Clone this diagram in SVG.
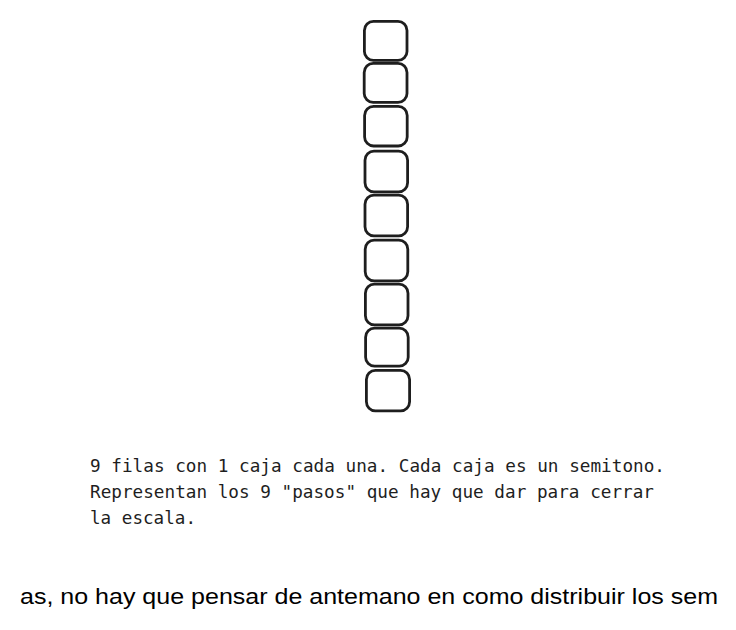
<svg xmlns="http://www.w3.org/2000/svg" width="736" height="630" viewBox="0 0 736 630">
<style>
.box{fill:none;stroke:#1e1e1e;stroke-width:2.8;stroke-linejoin:round}
.mono{font-family:"DejaVu Sans Mono","Liberation Mono",monospace;font-size:17.5px;fill:#1e1e1e}
.sans{font-family:"Liberation Sans",Arial,sans-serif;font-size:22px;fill:#000}
</style>
<rect width="736" height="630" fill="#fff"/>
<g id="boxes">
<g id="box1"><rect class="box" x="364.4" y="21.4" width="42.6" height="39" rx="9"/></g>
<g id="box2"><rect class="box" x="364.2" y="63.4" width="42.8" height="39" rx="9"/></g>
<g id="box3"><rect class="box" x="364.6" y="106.4" width="42.6" height="39.6" rx="9"/></g>
<g id="box4"><rect class="box" x="365" y="151.2" width="42.6" height="40.6" rx="9"/></g>
<g id="box5"><rect class="box" x="365" y="195.2" width="42.6" height="40.6" rx="9"/></g>
<g id="box6"><rect class="box" x="365.2" y="240.2" width="42.6" height="40.6" rx="9"/></g>
<g id="box7"><rect class="box" x="365.4" y="284.2" width="42.6" height="40.6" rx="9"/></g>
<g id="box8"><rect class="box" x="365.6" y="328.2" width="42.6" height="38" rx="9"/></g>
<g id="box9"><rect class="box" x="366.4" y="370.4" width="43.2" height="40.4" rx="9"/></g>
</g>
<g id="connectors"></g>
<g id="caption">
<text class="mono" x="90" y="472" textLength="575" lengthAdjust="spacingAndGlyphs">9 filas con 1 caja cada una. Cada caja es un semitono.</text>
<text class="mono" x="90" y="498" textLength="564" lengthAdjust="spacingAndGlyphs">Representan los 9 "pasos" que hay que dar para cerrar</text>
<text class="mono" x="90" y="524" textLength="106" lengthAdjust="spacingAndGlyphs">la escala.</text>
</g>
<text class="sans" x="20" y="604" textLength="698" lengthAdjust="spacingAndGlyphs">as, no hay que pensar de antemano en como distribuir los sem</text>
</svg>
